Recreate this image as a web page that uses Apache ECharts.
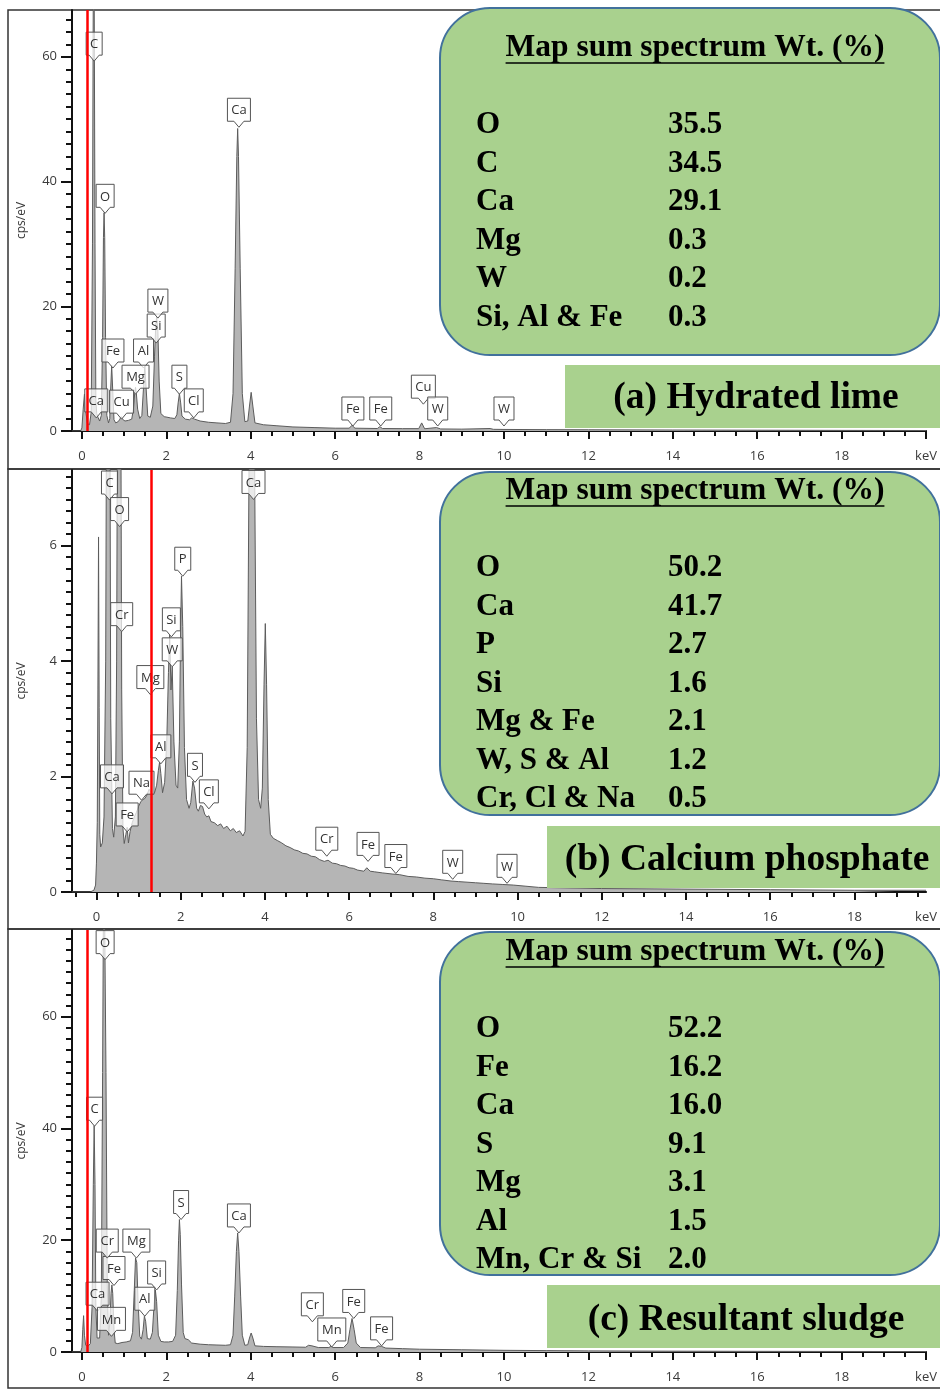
<!DOCTYPE html>
<html><head><meta charset="utf-8">
<script src="https://cdn.jsdelivr.net/npm/echarts@6/dist/echarts.min.js"></script>
<style>html,body{margin:0;padding:0;background:#fff}#c{width:940px;height:1390px}</style>
</head><body><div id="c"></div>
<script>
// ---------------- DATA ----------------
const tableTitle = 'Map sum spectrum Wt. (%)';
const sampleNames = ['(a) Hydrated lime', '(b) Calcium phosphate', '(c) Resultant sludge'];
const tableA = [['O','35.5'],['C','34.5'],['Ca','29.1'],['Mg','0.3'],['W','0.2'],['Si, Al & Fe','0.3']];
const tableB = [['O','50.2'],['Ca','41.7'],['P','2.7'],['Si','1.6'],['Mg & Fe','2.1'],['W, S & Al','1.2'],['Cr, Cl & Na','0.5']];
const tableC = [['O','52.2'],['Fe','16.2'],['Ca','16.0'],['S','9.1'],['Mg','3.1'],['Al','1.5'],['Mn, Cr & Si','2.0']];

const xMajorTicks = [0,2,4,6,8,10,12,14,16,18,20];
const yMajorA = [0,20,40,60];
const yMajorB = [0,2,4,6];
const yMajorC = [0,20,40,60];
const redLines = [0.125, 1.29, 0.125];

// spectrum (a) Hydrated lime : [keV, cps/eV]
const specA = [[-0.235,0],[-0.03,0],[0.0,0.5],[0.03,3.5],[0.06,5.9],[0.09,3.2],[0.13,1.2],[0.18,1.0],[0.22,3],[0.25,30],[0.27,72],[0.28,80],[0.29,72],[0.31,30],[0.33,5],[0.35,2.8],[0.38,2.2],[0.42,1.6],[0.46,2.5],[0.49,15],[0.51,31],[0.525,35],[0.54,31],[0.56,15],[0.59,2.5],[0.63,1.3],[0.66,2],[0.68,6.5],[0.705,10.5],[0.73,6.5],[0.76,1.8],[0.8,1.3],[0.86,1.5],[0.9,1.9],[0.93,2.3],[0.96,1.9],[1.02,1.6],[1.1,1.7],[1.18,1.9],[1.22,3.5],[1.25,6],[1.27,7],[1.29,6],[1.32,3.5],[1.37,2],[1.42,2.5],[1.46,7],[1.49,10.5],[1.52,7],[1.56,2.4],[1.62,2.2],[1.68,4],[1.72,12],[1.75,17],[1.77,18.3],[1.80,16],[1.83,8],[1.87,2.8],[1.95,2.3],[2.1,2.1],[2.2,2.0],[2.25,2.6],[2.28,4.5],[2.31,6],[2.34,4.5],[2.37,2.4],[2.45,1.9],[2.55,1.8],[2.6,2.1],[2.63,2.3],[2.67,1.9],[2.8,1.6],[3.0,1.4],[3.2,1.3],[3.4,1.2],[3.52,1.4],[3.58,6],[3.63,26],[3.67,44],[3.69,48.5],[3.71,44],[3.75,26],[3.8,6],[3.86,1.5],[3.93,1.6],[3.97,4],[4.01,6.2],[4.05,4],[4.1,1.3],[4.3,1.0],[4.6,0.85],[5.0,0.65],[5.5,0.55],[6.0,0.45],[6.33,0.45],[6.4,0.9],[6.47,0.45],[7.0,0.4],[7.06,0.7],[7.12,0.4],[7.6,0.38],[7.98,0.38],[8.05,1.3],[8.12,0.36],[8.4,0.55],[8.5,0.33],[9.0,0.3],[9.67,0.4],[9.75,0.27],[10.0,0.25],[11,0.22],[12,0.2],[14,0.16],[16,0.13],[18,0.1],[20,0.08]];

// spectrum (b) Calcium phosphate
const specB = [[-0.58,0],[-0.15,0],[-0.06,0.03],[-0.02,0.12],[0.0,0.5],[0.02,1.2],[0.035,3.5],[0.05,6.15],[0.065,3.2],[0.08,1.0],[0.1,0.78],[0.14,0.85],[0.18,1.3],[0.22,4],[0.25,11],[0.28,14],[0.31,11],[0.34,3],[0.38,1.1],[0.41,0.95],[0.45,1.3],[0.48,4],[0.51,11],[0.54,14],[0.57,11],[0.6,3.5],[0.63,1.1],[0.66,0.84],[0.7,1.0],[0.73,1.12],[0.76,0.85],[0.8,1.05],[0.85,1.2],[0.9,1.3],[0.95,1.38],[1.0,1.48],[1.05,1.56],[1.1,1.6],[1.15,1.62],[1.2,1.68],[1.25,1.78],[1.29,1.8],[1.33,1.7],[1.38,1.72],[1.43,1.85],[1.47,2.1],[1.5,2.25],[1.53,2.05],[1.57,1.72],[1.62,1.9],[1.67,2.6],[1.71,3.8],[1.74,4.45],[1.77,3.5],[1.8,3.9],[1.84,2.6],[1.89,1.85],[1.93,1.8],[1.97,2.6],[2.0,4.6],[2.02,5.47],[2.05,4.6],[2.09,2.5],[2.14,1.6],[2.2,1.45],[2.24,1.55],[2.29,1.92],[2.33,1.8],[2.38,1.45],[2.42,1.4],[2.47,1.5],[2.52,1.48],[2.57,1.35],[2.62,1.3],[2.67,1.32],[2.72,1.22],[2.8,1.2],[2.88,1.15],[2.95,1.18],[3.02,1.1],[3.1,1.14],[3.18,1.06],[3.25,1.1],[3.32,1.03],[3.4,1.06],[3.48,0.97],[3.53,1.05],[3.58,2.5],[3.62,7],[3.66,11.5],[3.69,12.5],[3.72,11.5],[3.76,7],[3.8,3],[3.85,1.6],[3.9,1.45],[3.94,1.8],[3.98,3.6],[4.01,4.65],[4.04,3.6],[4.08,1.6],[4.13,1.0],[4.2,0.93],[4.3,0.89],[4.4,0.85],[4.5,0.8],[4.6,0.77],[4.7,0.73],[4.8,0.71],[4.9,0.67],[5.0,0.66],[5.1,0.62],[5.2,0.61],[5.3,0.56],[5.41,0.53],[5.5,0.55],[5.6,0.5],[5.7,0.49],[5.8,0.46],[5.9,0.45],[6.0,0.42],[6.1,0.41],[6.2,0.38],[6.35,0.36],[6.42,0.42],[6.5,0.36],[6.6,0.35],[6.8,0.33],[7.04,0.31],[7.2,0.3],[7.4,0.27],[7.6,0.26],[7.8,0.24],[8.0,0.23],[8.2,0.21],[8.42,0.19],[8.6,0.18],[8.8,0.17],[9.0,0.16],[9.2,0.15],[9.4,0.14],[9.65,0.13],[9.9,0.12],[10.2,0.1],[10.5,0.08],[12,0.06],[14,0.05],[16,0.04],[18,0.03],[19.7,0.03]];

// spectrum (c) Resultant sludge
const specC = [[-0.235,0],[-0.03,0],[0.0,0.8],[0.02,4],[0.04,6.5],[0.06,3],[0.09,1.2],[0.14,1.0],[0.2,1.5],[0.24,8],[0.27,30],[0.29,40.5],[0.31,30],[0.33,8],[0.36,2.5],[0.39,2.2],[0.42,2.5],[0.46,10],[0.49,50],[0.52,95],[0.54,95],[0.57,50],[0.6,12],[0.63,3],[0.66,5],[0.69,10.5],[0.71,12],[0.73,10.5],[0.76,4],[0.79,1.6],[0.85,1.5],[0.95,1.7],[1.05,1.8],[1.15,2.0],[1.2,3.5],[1.24,11],[1.27,16.8],[1.3,16],[1.33,9],[1.37,2.8],[1.41,2.3],[1.45,4],[1.48,6.4],[1.51,5.5],[1.55,2.4],[1.62,2.3],[1.67,3.5],[1.71,8.5],[1.74,11.1],[1.77,9],[1.81,3],[1.87,1.9],[1.95,1.8],[2.05,1.8],[2.15,1.9],[2.22,3],[2.26,11],[2.29,20],[2.31,23.7],[2.33,21],[2.36,12],[2.4,3.5],[2.44,2.4],[2.47,2.6],[2.52,2.2],[2.6,1.6],[2.8,1.4],[3.0,1.3],[3.2,1.25],[3.4,1.2],[3.52,1.3],[3.58,3],[3.62,10],[3.66,18],[3.69,21.3],[3.72,18],[3.76,10],[3.8,3],[3.86,1.2],[3.93,1.3],[3.97,2.5],[4.01,3.4],[4.05,2.5],[4.1,1.1],[4.3,1.0],[4.6,0.95],[5.0,0.9],[5.3,0.85],[5.37,1.2],[5.41,1.4],[5.45,1.1],[5.6,0.8],[5.85,0.8],[5.9,1.0],[5.95,0.8],[6.2,0.8],[6.3,1.6],[6.35,4],[6.4,6.0],[6.45,4],[6.5,1.6],[6.6,0.8],[6.95,0.75],[7.02,1.1],[7.06,1.3],[7.1,1.0],[7.2,0.7],[7.6,0.6],[8.0,0.5],[9,0.4],[10,0.3],[11,0.25],[12,0.2],[14,0.15],[16,0.12],[18,0.1],[20,0.08]];

// peak labels: [element, keV, cps/eV at pointer tip]
const labelsA = [['C',0.29,59.3],['O',0.55,34.9],['Ca',3.72,48.7],['Si',1.76,14.1],['W',1.80,18.1],['Fe',0.735,10.1],['Al',1.46,10.1],['Mg',1.27,5.9],['S',2.31,5.9],['Cl',2.65,2.1],['Ca',0.34,2.1],['Cu',0.94,1.9],['Fe',6.42,0.8],['Fe',7.08,0.8],['Cu',8.09,4.3],['W',8.43,0.8],['W',10.0,0.8]];
const labelsB = [['C',0.31,6.79],['O',0.55,6.33],['Ca',3.73,6.8],['P',2.05,5.47],['Cr',0.60,4.51],['Si',1.78,4.42],['W',1.80,3.9],['Mg',1.28,3.42],['Al',1.53,2.22],['S',2.34,1.9],['Ca',0.37,1.7],['Na',1.07,1.59],['Cl',2.67,1.44],['Fe',0.73,1.04],['Cr',5.47,0.62],['Fe',6.45,0.53],['Fe',7.11,0.32],['W',8.46,0.22],['W',9.75,0.15]];
const labelsC = [['O',0.55,70.2],['C',0.30,40.4],['S',2.35,23.7],['Ca',3.72,21.3],['Fe',0.76,11.9],['Cr',0.60,16.8],['Mg',1.29,16.8],['Si',1.77,11.1],['Ca',0.37,7.3],['Al',1.49,6.4],['Mn',0.70,2.8],['Cr',5.46,5.4],['Mn',5.92,0.9],['Fe',6.44,6.0],['Fe',7.10,1.1]];

// ---------------- LAYOUT ----------------
const panels = [
  {spec: specA, labels: labelsA, table: tableA, top: 10, height: 421, xMin: -0.235, xMax: 20, yMax: 67.5, yMajor: yMajorA, yStep: 2,
   box: {y: 8, h: 347}, titleY: 48, rowY: 125, tag: {x: 565, y: 365, w: 380, h: 63, cx: 756, cy: 398}, frame: {y: 10, h: 459}},
  {spec: specB, labels: labelsB, table: tableB, top: 470, height: 422, xMin: -0.58, xMax: 19.7, yMax: 7.31, yMajor: yMajorB, yStep: 0.2,
   box: {y: 472, h: 343}, titleY: 491, rowY: 568, tag: {x: 547, y: 826, w: 400, h: 62, cx: 747, cy: 860}, frame: {y: 469, h: 460}},
  {spec: specC, labels: labelsC, table: tableC, top: 930, height: 422, xMin: -0.235, xMax: 20, yMax: 75.5, yMajor: yMajorC, yStep: 2,
   box: {y: 932, h: 343}, titleY: 952, rowY: 1029, tag: {x: 547, y: 1285, w: 400, h: 63, cx: 746, cy: 1320}, frame: {y: 929, h: 459}}
];

const AX = '#111';
const LBL = '#3a3a3a';
const SANS = '"Open Sans", "Noto Sans", sans-serif';
const SERIF = '"Liberation Serif", "Times New Roman", serif';

const mctx = document.createElement('canvas').getContext('2d');
function textW(t, font) { mctx.font = font; return mctx.measureText(t).width; }

const grids = [], xAxes = [], yAxes = [], series = [];
const graphics = [];

panels.forEach((P, i) => {
  grids.push({left: 72, width: 862, top: P.top, height: P.height});
  const xMaj = xMajorTicks.filter(v => v <= P.xMax + 1e-6);
  const xLab = xMajorTicks.filter(v => v <= 18).concat([P.xMax]);
  const xMin = [];
  for (let v = Math.ceil(P.xMin / 0.5) * 0.5; v <= P.xMax + 1e-6; v += 0.5) {
    const r = Math.round(v * 10) / 10;
    if (Math.abs(r / 2 - Math.round(r / 2)) > 1e-6) xMin.push(r);
  }
  const yMin = [];
  for (let k = 1; k * P.yStep <= P.yMax + 1e-6; k++) {
    const r = Math.round(k * P.yStep * 100) / 100;
    if (P.yMajor.indexOf(r) < 0) yMin.push(r);
  }
  xAxes.push({gridIndex: i, type: 'value', min: P.xMin, max: P.xMax, position: 'bottom',
    axisLine: {show: true, onZero: false, lineStyle: {color: AX, width: 2}},
    axisTick: {show: true, length: 8, customValues: xMaj, lineStyle: {color: AX, width: 2}},
    axisLabel: {show: true, customValues: xLab, margin: 19, color: LBL, fontSize: 13, fontFamily: SANS,
      formatter: v => (v > 19 ? 'keV' : String(v))},
    splitLine: {show: false}});
  xAxes.push({gridIndex: i, type: 'value', min: P.xMin, max: P.xMax, position: 'bottom',
    axisLine: {show: false, onZero: false},
    axisTick: {show: true, length: 5, customValues: xMin, lineStyle: {color: AX, width: 2}},
    axisLabel: {show: false}, splitLine: {show: false}});
  yAxes.push({gridIndex: i, type: 'value', min: 0, max: P.yMax, position: 'left',
    name: 'cps/eV', nameLocation: 'middle', nameGap: 44, nameRotate: 90,
    nameTextStyle: {fontSize: 12, color: LBL, fontFamily: SANS},
    axisLine: {show: true, onZero: false, lineStyle: {color: AX, width: 2}},
    axisTick: {show: true, length: 11, customValues: P.yMajor, lineStyle: {color: AX, width: 2}},
    axisLabel: {show: true, customValues: P.yMajor, margin: 15, color: LBL, fontSize: 13, fontFamily: SANS},
    splitLine: {show: false}});
  yAxes.push({gridIndex: i, type: 'value', min: 0, max: P.yMax, position: 'left',
    axisLine: {show: false, onZero: false},
    axisTick: {show: true, length: 6, customValues: yMin, lineStyle: {color: AX, width: 2}},
    axisLabel: {show: false}, splitLine: {show: false}});

  const xi = i * 2, yi = i * 2;
  series.push({type: 'line', xAxisIndex: xi, yAxisIndex: yi, data: P.spec, showSymbol: false, symbol: 'none',
    smooth: false, clip: true, z: 2, silent: true,
    lineStyle: {color: '#5c5c5c', width: 1}, areaStyle: {color: '#b5b5b5', opacity: 1}});
  const labs = P.labels;
  series.push({type: 'custom', xAxisIndex: xi, yAxisIndex: yi, z: 4, clip: false, silent: true,
    data: labs.map(l => [l[1], l[2]]),
    renderItem: (params, api) => {
      const name = labs[params.dataIndex][0];
      const p = api.coord([api.value(0), api.value(1)]);
      const font = '13px ' + SANS;
      const w = Math.round(textW(name, font) + 8);
      const h = 23, ph = 6, pw = 5;
      const bx = p[0], by = p[1] - ph, top = by - h;
      return {type: 'group', children: [
        {type: 'polygon', shape: {points: [[bx - w / 2, top], [bx + w / 2, top], [bx + w / 2, by], [bx + pw, by], [bx, p[1]], [bx - pw, by], [bx - w / 2, by]]},
         style: {fill: 'rgba(255,255,255,0.72)', stroke: '#555', lineWidth: 1}},
        {type: 'text', style: {text: name, x: bx, y: top + h / 2 + 1, align: 'center', verticalAlign: 'middle', font: font, fill: '#333'}}
      ]};
    }});
  series.push({type: 'line', xAxisIndex: xi, yAxisIndex: yi, data: [], z: 6, silent: true,
    markLine: {silent: true, symbol: ['none', 'none'], label: {show: false}, animation: false,
      lineStyle: {color: '#ff0000', width: 2.5, type: 'solid'}, data: [{xAxis: redLines[i]}]}});

  // frame
  graphics.push({type: 'rect', z: 0, shape: {x: 8, y: P.frame.y, width: 945, height: P.frame.h},
    style: {fill: 'none', stroke: '#333', lineWidth: 1.5}});
  // rounded table box
  graphics.push({type: 'rect', z: 100, shape: {x: 440, y: P.box.y, width: 500, height: P.box.h, r: 50},
    style: {fill: '#a9d18e', stroke: '#41719c', lineWidth: 2}});
  const tFont = 'bold 31.5px ' + SERIF;
  const tw = textW(tableTitle, tFont);
  graphics.push({type: 'text', z: 101, style: {text: tableTitle, x: 695, y: P.titleY, align: 'center', verticalAlign: 'middle', font: tFont, fill: '#000'}});
  graphics.push({type: 'line', z: 101, shape: {x1: 695 - tw / 2, y1: P.titleY + 15, x2: 695 + tw / 2, y2: P.titleY + 15},
    style: {stroke: '#000', lineWidth: 1.5}});
  const rFont = 'bold 31px ' + SERIF;
  P.table.forEach((row, k) => {
    const y = P.rowY + k * 38.5;
    graphics.push({type: 'text', z: 101, style: {text: row[0], x: 476, y: y, align: 'left', verticalAlign: 'middle', font: rFont, fill: '#000'}});
    graphics.push({type: 'text', z: 101, style: {text: row[1], x: 668, y: y, align: 'left', verticalAlign: 'middle', font: rFont, fill: '#000'}});
  });
  // sample tag
  graphics.push({type: 'rect', z: 100, shape: {x: P.tag.x, y: P.tag.y, width: P.tag.w, height: P.tag.h},
    style: {fill: '#a9d18e', stroke: 'none'}});
  graphics.push({type: 'text', z: 101, style: {text: sampleNames[i], x: P.tag.cx, y: P.tag.cy, align: 'center', verticalAlign: 'middle', font: 'bold 37.5px ' + SERIF, fill: '#000'}});
});

const chart = echarts.init(document.getElementById('c'), null, {renderer: 'canvas', width: 940, height: 1390});
chart.setOption({
  animation: false,
  backgroundColor: '#ffffff',
  grid: grids, xAxis: xAxes, yAxis: yAxes, series: series,
  graphic: {elements: graphics}
});
</script></body></html>
